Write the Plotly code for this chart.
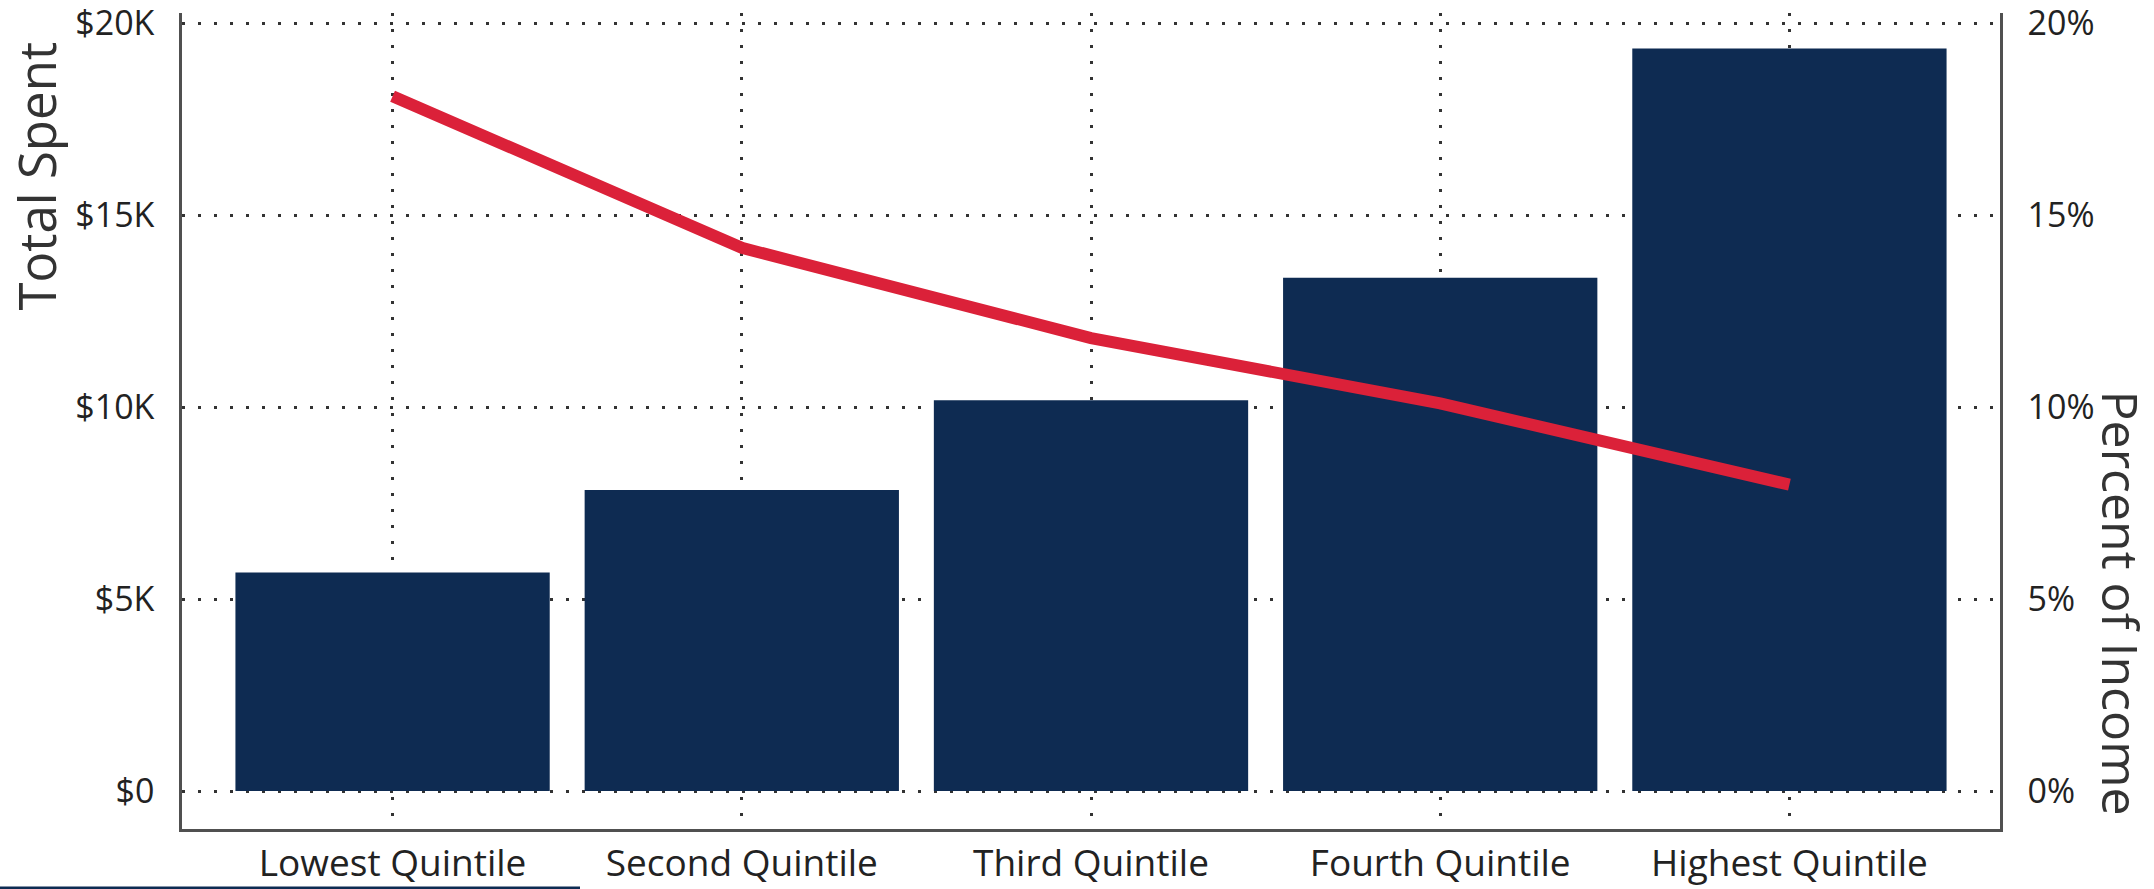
import plotly.graph_objects as go

# Spending by income quintile
quintiles = ["Lowest Quintile", "Second Quintile", "Third Quintile",
             "Fourth Quintile", "Highest Quintile"]
total_spent = [5690, 7840, 10180, 13370, 19340]          # dollars
pct_of_income = [0.181, 0.1415, 0.118, 0.101, 0.0798]    # share of income

spent_tickvals = [0, 5000, 10000, 15000, 20000]
spent_ticktext = ["$0", "$5K", "$10K", "$15K", "$20K"]
pct_tickvals = [0, 0.05, 0.10, 0.15, 0.20]
pct_ticktext = ["0%", "5%", "10%", "15%", "20%"]

NAVY = "#0E2B52"
RED = "#DB2139"
GRID = "#333333"
AXIS = "#505050"
TEXT = "#222222"
FONT = "Open Sans"

W, H = 2154, 889
L, R, T, B = 182, 154, 13, 60

fig = go.Figure()
fig.add_trace(go.Bar(
    x=quintiles, y=total_spent, marker=dict(color=NAVY, line=dict(width=0)),
    width=0.9, yaxis="y", showlegend=False, hoverinfo="x+y",
))
fig.add_trace(go.Scatter(
    x=quintiles, y=pct_of_income, mode="lines", yaxis="y2",
    line=dict(color=RED, width=12), showlegend=False,
))

grid = dict(showgrid=True, gridcolor=GRID, gridwidth=2.5, griddash="3px,13px")

fig.update_layout(
    width=W, height=H,
    margin=dict(l=L, r=R, t=T, b=B, pad=0, autoexpand=False),
    paper_bgcolor="white", plot_bgcolor="white",
    font=dict(family=FONT, color=TEXT),
    bargap=0.1,
    xaxis=dict(
        type="category", range=[-0.603, 4.603], **grid, automargin=False,
        showline=True, linecolor=AXIS, linewidth=2.5, mirror=False,
        ticks="", ticklabelstandoff=0, ticklabeloverflow="allow",
        tickfont=dict(family=FONT, size=37, color=TEXT),
    ),
    yaxis=dict(
        range=[-990, 20268], **grid, zeroline=False, automargin=False,
        tickvals=spent_tickvals, ticktext=spent_ticktext,
        showline=True, linecolor=AXIS, linewidth=2.5,
        ticks="", ticklabelstandoff=18, ticklabeloverflow="allow",
        tickfont=dict(family=FONT, size=34, color=TEXT),
    ),
    yaxis2=dict(
        overlaying="y", side="right", range=[-0.0099, 0.20268],
        showgrid=False, zeroline=False, automargin=False,
        tickvals=pct_tickvals, ticktext=pct_ticktext,
        showline=True, linecolor=AXIS, linewidth=2.5,
        ticks="", ticklabelstandoff=18, ticklabeloverflow="allow",
        tickfont=dict(family=FONT, size=34, color=TEXT),
    ),
    annotations=[
        dict(text="Total Spent", xref="paper", yref="paper",
             x=(35 - L) / (W - L - R), y=(H - B - 40) / (H - T - B),
             xanchor="center", yanchor="top", textangle=-90, showarrow=False,
             font=dict(family=FONT, size=51, color="#333333")),
        dict(text="Percent of Income", xref="paper", yref="paper",
             x=(2121 - L) / (W - L - R), y=(H - B - 817) / (H - T - B),
             xanchor="center", yanchor="bottom", textangle=90, showarrow=False,
             font=dict(family=FONT, size=50, color="#333333")),
    ],
    shapes=[
        dict(type="line", xref="paper", yref="paper",
             x0=-L / (W - L - R), x1=(580 - L) / (W - L - R),
             y0=(H - B - 888) / (H - T - B), y1=(H - B - 888) / (H - T - B),
             line=dict(color=NAVY, width=3)),
    ],
)

fig.write_html("out.html")
